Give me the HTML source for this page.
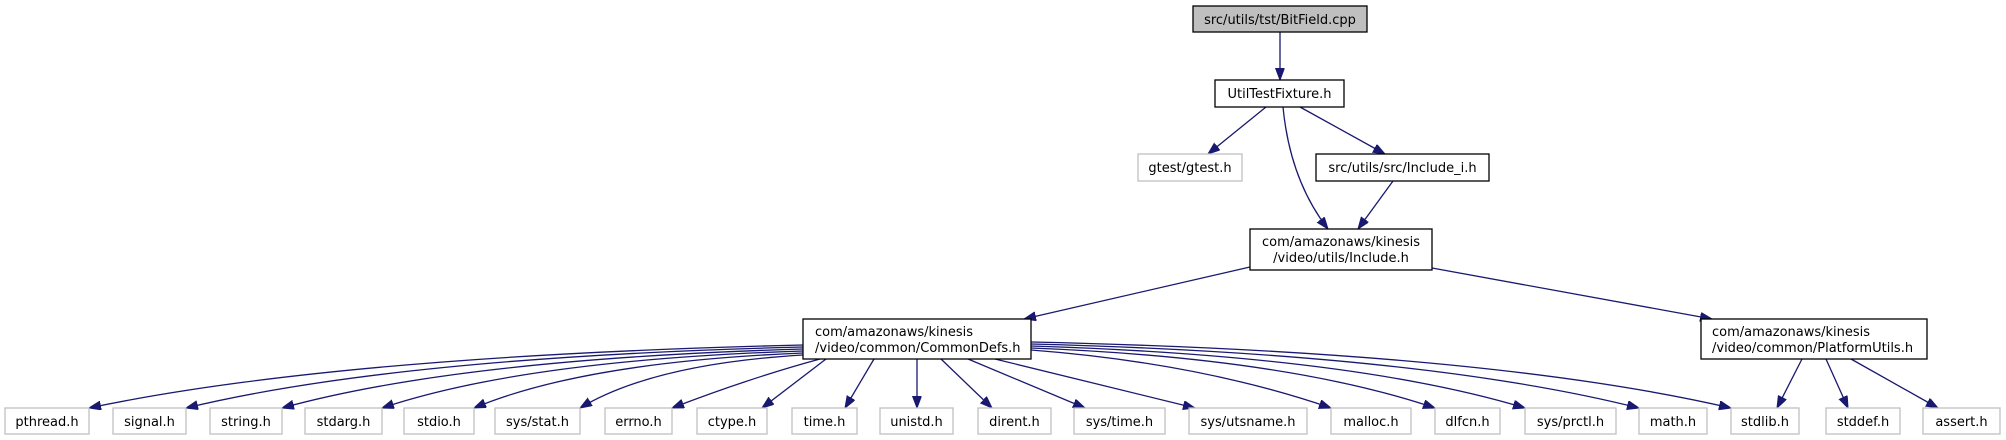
<!DOCTYPE html>
<html><head><meta charset="utf-8"><style>
html,body{margin:0;padding:0;background:#fff;}
svg{display:block;}
text{font-family:"DejaVu Sans","Liberation Sans",sans-serif;font-size:13px;fill:#000;}
.n{fill:#fff;stroke:#000;stroke-width:1.3;}
.g{fill:#fff;stroke:#bfbfbf;stroke-width:1.3;}
.e{fill:none;stroke:#191970;stroke-width:1.3;}
</style></head><body>
<svg width="2006" height="440" viewBox="0 0 2006 440" xmlns="http://www.w3.org/2000/svg">
<defs><marker id="a" markerUnits="userSpaceOnUse" markerWidth="13" markerHeight="10" refX="12" refY="4.5" orient="auto"><path d="M0,0 L12,4.5 L0,9 z" fill="#191970" stroke="#191970"/></marker></defs>
<g marker-end="url(#a)" class="e">
<path class="e" d="M1280,32 L1280,80"/>
<path class="e" d="M1266,107 L1208,154"/>
<path class="e" d="M1283,107 Q1290,180 1328,229"/>
<path class="e" d="M1300,107 L1385,154"/>
<path class="e" d="M1393,181 L1358,229"/>
<path class="e" d="M1250,267 L1024,319"/>
<path class="e" d="M1432,268 L1712,319"/>
<path class="e" d="M1802,359 L1777,408"/>
<path class="e" d="M1826,359 L1848,408"/>
<path class="e" d="M1851,359 L1938,408"/>
<path class="e" d="M803,345 Q336,356 89,408"/>
<path class="e" d="M803,347 Q398,357 186,408"/>
<path class="e" d="M803,349 Q460,359 282,408"/>
<path class="e" d="M803,351 Q525,360 382,408"/>
<path class="e" d="M803,353 Q584,362 474,408"/>
<path class="e" d="M803,355 Q653,364 580,408"/>
<path class="e" d="M820,359 Q750,378 672,408"/>
<path class="e" d="M826,359 L762,408"/>
<path class="e" d="M874,359 L845,408"/>
<path class="e" d="M917,359 L917,408"/>
<path class="e" d="M941,359 L992,408"/>
<path class="e" d="M968,359 L1085,408"/>
<path class="e" d="M995,359 L1195,408"/>
<path class="e" d="M1031,350 Q1200,363 1331,408"/>
<path class="e" d="M1031,348 Q1287,358 1435,408"/>
<path class="e" d="M1031,346 Q1353,356 1525,408"/>
<path class="e" d="M1031,344 Q1424,354 1639,408"/>
<path class="e" d="M1031,342 Q1489,352 1731,408"/>
</g>
<rect x="1193" y="6" width="174" height="26" fill="#bfbfbf" stroke="#000" stroke-width="1.3"/>
<text x="1280" y="24" text-anchor="middle">src/utils/tst/BitField.cpp</text>
<rect class="n" x="1215" y="80" width="129" height="27"/>
<text x="1279.5" y="98" text-anchor="middle">UtilTestFixture.h</text>
<rect class="g" x="1138" y="154" width="104" height="27"/>
<text x="1190" y="172" text-anchor="middle">gtest/gtest.h</text>
<rect class="n" x="1316" y="154" width="173" height="27"/>
<text x="1402.5" y="172" text-anchor="middle">src/utils/src/Include_i.h</text>
<rect class="n" x="1250" y="229" width="182" height="41"/>
<text x="1341" y="246" text-anchor="middle">com/amazonaws/kinesis</text>
<text x="1341" y="262" text-anchor="middle">/video/utils/Include.h</text>
<rect class="n" x="803" y="319" width="228" height="40"/>
<text x="815" y="336">com/amazonaws/kinesis</text>
<text x="815" y="352">/video/common/CommonDefs.h</text>
<rect class="n" x="1701" y="319" width="226" height="40"/>
<text x="1712" y="336">com/amazonaws/kinesis</text>
<text x="1712" y="352">/video/common/PlatformUtils.h</text>
<g>
<rect class="g" x="5" y="408" width="84" height="26"/><text x="47" y="426" text-anchor="middle">pthread.h</text>
<rect class="g" x="113" y="408" width="73" height="26"/><text x="149.5" y="426" text-anchor="middle">signal.h</text>
<rect class="g" x="210" y="408" width="72" height="26"/><text x="246" y="426" text-anchor="middle">string.h</text>
<rect class="g" x="305" y="408" width="77" height="26"/><text x="343.5" y="426" text-anchor="middle">stdarg.h</text>
<rect class="g" x="404" y="408" width="70" height="26"/><text x="439" y="426" text-anchor="middle">stdio.h</text>
<rect class="g" x="495" y="408" width="85" height="26"/><text x="537.5" y="426" text-anchor="middle">sys/stat.h</text>
<rect class="g" x="605" y="408" width="67" height="26"/><text x="638.5" y="426" text-anchor="middle">errno.h</text>
<rect class="g" x="697" y="408" width="70" height="26"/><text x="732" y="426" text-anchor="middle">ctype.h</text>
<rect class="g" x="792" y="408" width="65" height="26"/><text x="824.5" y="426" text-anchor="middle">time.h</text>
<rect class="g" x="880" y="408" width="73" height="26"/><text x="916.5" y="426" text-anchor="middle">unistd.h</text>
<rect class="g" x="978" y="408" width="73" height="26"/><text x="1014.5" y="426" text-anchor="middle">dirent.h</text>
<rect class="g" x="1074" y="408" width="91" height="26"/><text x="1119.5" y="426" text-anchor="middle">sys/time.h</text>
<rect class="g" x="1189" y="408" width="118" height="26"/><text x="1248" y="426" text-anchor="middle">sys/utsname.h</text>
<rect class="g" x="1331" y="408" width="80" height="26"/><text x="1371" y="426" text-anchor="middle">malloc.h</text>
<rect class="g" x="1435" y="408" width="65" height="26"/><text x="1467.5" y="426" text-anchor="middle">dlfcn.h</text>
<rect class="g" x="1525" y="408" width="91" height="26"/><text x="1570.5" y="426" text-anchor="middle">sys/prctl.h</text>
<rect class="g" x="1639" y="408" width="68" height="26"/><text x="1673" y="426" text-anchor="middle">math.h</text>
<rect class="g" x="1731" y="408" width="68" height="26"/><text x="1765" y="426" text-anchor="middle">stdlib.h</text>
<rect class="g" x="1826" y="408" width="74" height="26"/><text x="1863" y="426" text-anchor="middle">stddef.h</text>
<rect class="g" x="1923" y="408" width="77" height="26"/><text x="1961.5" y="426" text-anchor="middle">assert.h</text>
</g>
</svg>
</body></html>
